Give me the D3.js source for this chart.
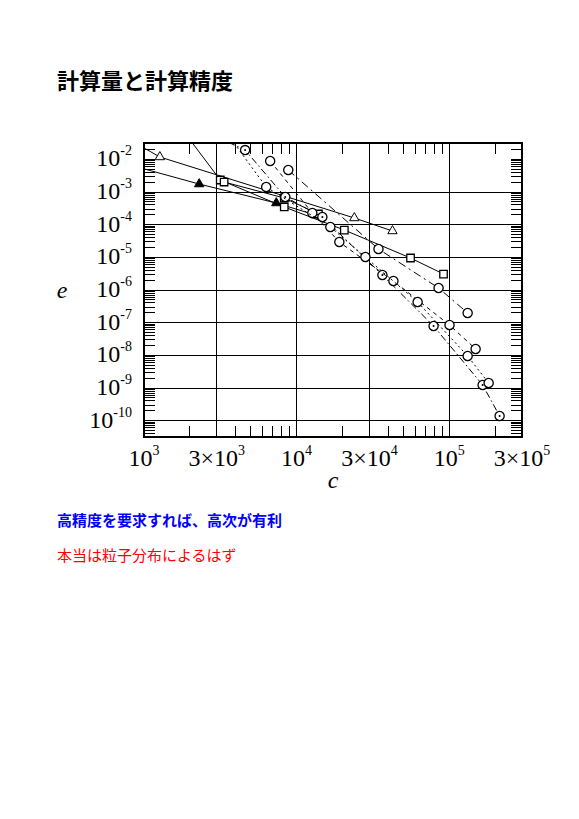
<!DOCTYPE html>
<html>
<head>
<meta charset="utf-8">
<title>計算量と計算精度</title>
<script src="https://cdn.jsdelivr.net/npm/d3@7"></script>
<style>
  body { margin: 0; background: #fff; }
  svg text { font-family: "Liberation Serif", "DejaVu Serif", serif; }
  svg text.jp { font-family: "Noto Sans CJK JP", sans-serif; }
</style>
</head>
<body>
<svg width="579" height="819"></svg>
<script>
// tick labels
var xTickValues = [1e3, 3e3, 1e4, 3e4, 1e5, 3e5];
var xTickMant = ["", "3\u00d7", "", "3\u00d7", "", "3\u00d7"];
var xTickExp = ["3", "3", "4", "4", "5", "5"];
var xGrid = [3e3, 1e4, 3e4, 1e5];
var yTickExp = [-2, -3, -4, -5, -6, -7, -8, -9, -10];
var yGridExp = [-3, -4, -5, -6, -7, -8, -9, -10];

// cost c / error e
var triOpenC = [810, 1270, 23900, 42500];
var triOpenE = [0.039, 0.0118, 1.6e-4, 6.4e-5];

var triFillC = [810, 2300, 7360, 13300];
var triFillE = [6.7e-3, 1.75e-3, 4.6e-4, 1.97e-4];

var sqC = [1600, 3160, 8300, 20550, 55800, 91800];
var sqE = [0.16, 2.33e-3, 3.48e-4, 6.85e-5, 9.53e-6, 3.08e-6];

var sq2C = [3350, 8300, 13900];
var sq2E = [2.02e-3, 6.55e-4, 2.12e-4];

var circAC = [2925, 4600, 8430, 14750, 36500, 79000, 165600, 214000];
var circAE = [0.0516, 0.0192, 7.0e-4, 1.71e-4, 2.88e-6, 7.9e-8, 1.24e-9, 1.39e-10];

var circBC = [6710, 12680, 19060, 43100, 100500, 149000];
var circBE = [8.87e-3, 2.28e-4, 2.94e-5, 1.88e-6, 8.47e-8, 1.56e-8];

var circCC = [8820, 34400, 85200, 132100];
var circCE = [4.71e-3, 1.8e-5, 1.15e-6, 1.98e-7];

var circDC = [3560, 6320, 16640, 28240, 62100, 132100, 181400];
var circDE = [0.0555, 1.42e-3, 8.48e-5, 1.02e-5, 4.29e-7, 9.53e-9, 1.42e-9];

var svg = d3.select("svg");

var x = d3.scaleLog().domain([1e3, 3e5]).range([144, 522]);
var y = d3.scaleLog().domain([Math.pow(10, -10.5), Math.pow(10, -1.5)]).range([437, 143]);

var pL = x.range()[0], pR = x.range()[1];
var pT = y.range()[1], pB = y.range()[0];

svg.append("text").attr("class", "jp")
  .attr("x", 57).attr("y", 79)
  .attr("dominant-baseline", "central")
  .style("font-size", "22px").style("font-weight", "bold")
  .text("計算量と計算精度");

svg.append("clipPath").attr("id", "plot")
  .append("rect")
  .attr("x", pL).attr("y", pT)
  .attr("width", pR - pL).attr("height", pB - pT);

// grid
var g = svg.append("g").attr("stroke", "#000").attr("shape-rendering", "crispEdges");
g.selectAll(".vg").data(xGrid).enter().append("line")
  .attr("x1", x).attr("x2", x).attr("y1", pT).attr("y2", pB);
g.selectAll(".hg").data(yGridExp).enter().append("line")
  .attr("x1", pL).attr("x2", pR)
  .attr("y1", function(d) { return y(Math.pow(10, d)); })
  .attr("y2", function(d) { return y(Math.pow(10, d)); });

// minor ticks
var xMinor = [];
[1e3, 1e4, 1e5].forEach(function(d) {
  for (var k = 2; k <= 9; k++) {
    if (k != 3 && k * d < 3e5) xMinor.push(k * d);
  }
});
var yMinor = [];
for (var n = -11; n <= -2; n++) {
  for (var k = 1; k <= 9; k++) {
    var v = k * Math.pow(10, n);
    if (v > y.domain()[0] && v < y.domain()[1]) yMinor.push(v);
  }
}
var tl = 11;
g.selectAll(".xb").data(xMinor).enter().append("line")
  .attr("x1", x).attr("x2", x).attr("y1", pB).attr("y2", pB - tl);
g.selectAll(".xt").data(xMinor).enter().append("line")
  .attr("x1", x).attr("x2", x).attr("y1", pT).attr("y2", pT + tl);
g.selectAll(".yl").data(yMinor).enter().append("line")
  .attr("x1", pL).attr("x2", pL + tl).attr("y1", y).attr("y2", y);
g.selectAll(".yr").data(yMinor).enter().append("line")
  .attr("x1", pR).attr("x2", pR - tl).attr("y1", y).attr("y2", y);

g.append("rect")
  .attr("x", pL).attr("y", pT)
  .attr("width", pR - pL).attr("height", pB - pT)
  .attr("fill", "none").attr("stroke-width", 1.3);

// tick labels
var xl = svg.selectAll(".xlab").data(xTickValues).enter().append("text")
  .attr("x", x).attr("y", 466)
  .attr("text-anchor", "middle")
  .style("font-size", "24px");
xl.append("tspan").text(function(d, i) { return xTickMant[i] + "10"; });
xl.append("tspan").attr("dy", -11).style("font-size", "14px")
  .text(function(d, i) { return xTickExp[i]; });

var yl = svg.selectAll(".ylab").data(yTickExp).enter().append("text")
  .attr("x", 132)
  .attr("y", function(d) { return y(Math.pow(10, d)) + 7; })
  .attr("text-anchor", "end")
  .style("font-size", "24px");
yl.append("tspan").text("10");
yl.append("tspan").attr("dy", -11).style("font-size", "14px")
  .text(function(d) { return "-" + (-d); });

svg.append("text").attr("x", 333).attr("y", 488)
  .attr("text-anchor", "middle")
  .style("font-size", "24px").style("font-style", "italic").text("c");
svg.append("text").attr("x", 62).attr("y", 298)
  .attr("text-anchor", "middle")
  .style("font-size", "24px").style("font-style", "italic").text("e");

// series
var series = [
  { c: triOpenC, e: triOpenE, dash: null, mark: "triOpen" },
  { c: triFillC, e: triFillE, dash: null, mark: "triFill" },
  { c: sqC, e: sqE, dash: null, mark: "square" },
  { c: sq2C, e: sq2E, dash: null, mark: "square" },
  { c: circAC, e: circAE, dash: "7,3,1.5,3", mark: "circleDot" },
  { c: circBC, e: circBE, dash: "4,4", mark: "circle" },
  { c: circCC, e: circCE, dash: "8,4,2,4", mark: "circle" },
  { c: circDC, e: circDE, dash: "2,3", mark: "circle" }
];

var line = d3.line()
  .x(function(d) { return x(d[0]); })
  .y(function(d) { return y(d[1]); });

var plot = svg.append("g").attr("clip-path", "url(#plot)");

series.forEach(function(s) {
  var pts = d3.zip(s.c, s.e);
  plot.append("path")
    .attr("d", line(pts))
    .attr("fill", "none").attr("stroke", "#000").attr("stroke-width", 1)
    .attr("stroke-dasharray", s.dash);

  var m = plot.append("g").selectAll("g").data(pts).enter().append("g")
    .attr("transform", function(d) { return "translate(" + x(d[0]) + "," + y(d[1]) + ")"; });
  if (s.mark == "triOpen" || s.mark == "triFill") {
    m.append("path")
      .attr("d", d3.symbol().type(d3.symbolTriangle).size(38))
      .attr("fill", s.mark == "triFill" ? "#000" : "#fff")
      .attr("stroke", "#000").attr("stroke-width", 1);
  } else if (s.mark == "square") {
    m.append("path")
      .attr("d", d3.symbol().type(d3.symbolSquare).size(56))
      .attr("fill", "#fff").attr("stroke", "#000").attr("stroke-width", 1.3);
  } else {
    m.append("circle").attr("r", 4.6)
      .attr("fill", "#fff").attr("stroke", "#000").attr("stroke-width", 1.3);
    if (s.mark == "circleDot") {
      m.append("circle").attr("r", 1).attr("fill", "#000");
    }
  }
});

svg.append("text").attr("class", "jp")
  .attr("x", 57).attr("y", 519)
  .attr("dominant-baseline", "central")
  .style("font-size", "15px").style("font-weight", "bold")
  .attr("fill", "#0000ff")
  .text("高精度を要求すれば、高次が有利");

svg.append("text").attr("class", "jp")
  .attr("x", 57).attr("y", 554)
  .attr("dominant-baseline", "central")
  .style("font-size", "15px")
  .attr("fill", "#ff0000")
  .text("本当は粒子分布によるはず");
</script>
</body>
</html>
